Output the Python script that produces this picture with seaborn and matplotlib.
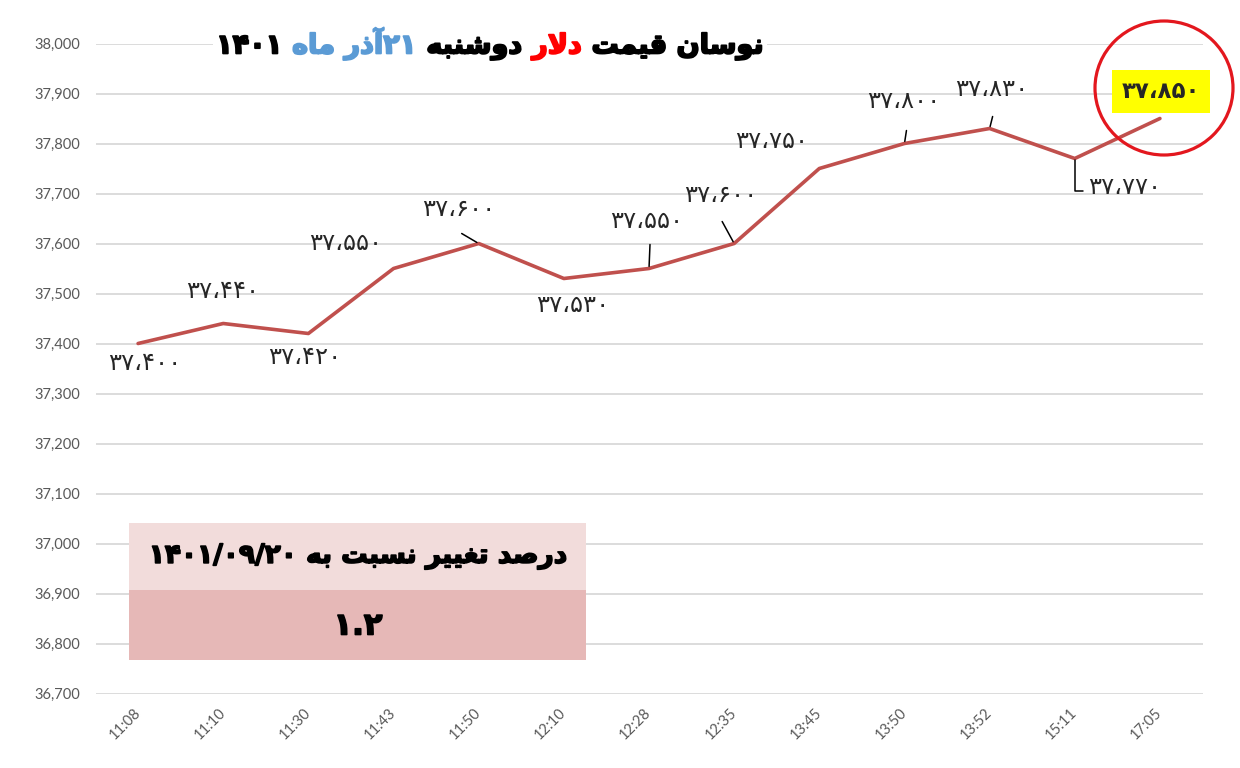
import re
import numpy as np
import pandas as pd
import matplotlib
matplotlib.use("Agg")
import matplotlib.pyplot as plt
import seaborn as sns
from matplotlib import font_manager, patches, patheffects
from matplotlib.ft2font import FT2Font
from matplotlib.offsetbox import TextArea, HPacker, AnchoredOffsetbox

# ---------------- data ----------------
times = ["11:08", "11:10", "11:30", "11:43", "11:50", "12:10", "12:28",
         "12:35", "13:45", "13:50", "13:52", "15:11", "17:05"]
prices = [37400, 37440, 37420, 37550, 37600, 37530, 37550,
          37600, 37750, 37800, 37830, 37770, 37850]
y_ticks = list(range(36700, 38001, 100))

title_parts = ["نوسان قیمت", "دلار", "دوشنبه", "۲۱آذر ماه", "۱۴۰۱"]
title_colors = ["#000000", "#FF0000", "#000000", "#5B9BD5", "#000000"]
box_header = "درصد تغییر نسبت به ۱۴۰۱/۰۹/۲۰"
box_value = "۱.۲"

# label offsets (pixels) relative to each point
label_offsets = [(7, -20), (-1, 32), (-4, -24), (-48, 25), (-20, 35), (9, -26),
                 (-2, 47), (-13, 48), (-48, 27), (-1, 42), (2, 40), (50, -28), (1, 27)]
leaders = {4: (-17, 10), 6: (1, 24), 7: (-12, 22), 9: (2, 13), 10: (3, 12)}

# ---------------- Persian helpers ----------------
fa_digits = str.maketrans("0123456789", "۰۱۲۳۴۵۶۷۸۹")
price_labels = [f"{p:,}".replace(",", "،").translate(fa_digits) for p in prices]

bold_path = font_manager.findfont(font_manager.FontProperties(family="DejaVu Sans", weight="bold"))
reg_path = font_manager.findfont(font_manager.FontProperties(family="DejaVu Sans"))
cmap_bold = FT2Font(bold_path).get_charmap()
cmap_reg = FT2Font(reg_path).get_charmap()
bold_ok = 0xFE8D in cmap_bold and 0xFEB7 in cmap_bold
cmap_use = cmap_bold if bold_ok else cmap_reg

FORMS = {
    "ا": (0xFE8D, 0xFE8E, None, None),
    "آ": (0xFE81, 0xFE82, None, None),
    "ب": (0xFE8F, 0xFE90, 0xFE91, 0xFE92),
    "ت": (0xFE95, 0xFE96, 0xFE97, 0xFE98),
    "د": (0xFEA9, 0xFEAA, None, None),
    "ذ": (0xFEAB, 0xFEAC, None, None),
    "ر": (0xFEAD, 0xFEAE, None, None),
    "س": (0xFEB1, 0xFEB2, 0xFEB3, 0xFEB4),
    "ش": (0xFEB5, 0xFEB6, 0xFEB7, 0xFEB8),
    "ص": (0xFEB9, 0xFEBA, 0xFEBB, 0xFEBC),
    "غ": (0xFECD, 0xFECE, 0xFECF, 0xFED0),
    "ق": (0xFED5, 0xFED6, 0xFED7, 0xFED8),
    "ل": (0xFEDD, 0xFEDE, 0xFEDF, 0xFEE0),
    "م": (0xFEE1, 0xFEE2, 0xFEE3, 0xFEE4),
    "ن": (0xFEE5, 0xFEE6, 0xFEE7, 0xFEE8),
    "ه": (0xFEE9, 0xFEEA, 0xFEEB, 0xFEEC),
    "و": (0xFEED, 0xFEEE, None, None),
    "ی": (0xFBFC, 0xFBFD, 0xFBFE, 0xFBFF),
}
if 0xFBFC not in cmap_use:
    FORMS["ی"] = (0xFEEF, 0xFEF0, 0xFEF3, 0xFEF4)
RIGHT_ONLY = set("اآدذرزژو")


def shape(w):
    out, i, n = [], 0, len(w)
    dual = lambda c: c in FORMS and c not in RIGHT_ONLY
    while i < n:
        c = w[i]
        if c not in FORMS:
            out.append(c)
            i += 1
            continue
        prev = i > 0 and dual(w[i - 1])
        if c == "ل" and i + 1 < n and w[i + 1] in "اآ":
            lig = {"ا": (0xFEFB, 0xFEFC), "آ": (0xFEF5, 0xFEF6)}[w[i + 1]]
            out.append(chr(lig[1] if prev else lig[0]))
            i += 2
            continue
        nxt = i + 1 < n and dual(c) and w[i + 1] in FORMS
        iso, fin, ini, med = FORMS[c]
        g = med if (prev and nxt) else fin if prev else ini if nxt else iso
        out.append(chr(g))
        i += 1
    return "".join(out)


def visual(s):
    runs = re.findall(r"[0-9۰-۹][0-9۰-۹/.،]*|[^0-9۰-۹]+", s)
    vis = [r if re.match(r"[0-9۰-۹]", r) else shape(r)[::-1] for r in runs]
    return "".join(vis[::-1])


# ---------------- figure ----------------
sns.set_style("white")
plt.rcParams["font.family"] = ["DejaVu Sans"]

W, H = 1240, 768
fig = plt.figure(figsize=(W / 100, H / 100), dpi=100)
ax = fig.add_axes([95.5 / W, (H - 693.5) / H, 1107 / W, 650 / H])

df = pd.DataFrame({"time": times, "price": prices})
sns.lineplot(data=df, x="time", y="price", sort=False, color="#C0504D",
             linewidth=2.6, ax=ax, zorder=3)

ax.set_xlim(-0.5, len(times) - 0.5)
ax.set_ylim(36700, 38000)
ax.set_yticks(y_ticks)
ax.set_yticklabels([f"{t:,}" for t in y_ticks])
ax.set_xticks(range(len(times)))
ax.set_xticklabels(times)
ax.set_xlabel("")
ax.set_ylabel("")
ax.yaxis.grid(True, color="#D9D9D9", linewidth=1.3)
ax.xaxis.grid(False)
ax.set_axisbelow(True)
for s in ax.spines.values():
    s.set_visible(False)
ax.tick_params(axis="y", length=0, pad=11, labelsize=10.5, labelcolor="#595959")
ax.tick_params(axis="x", length=0, pad=12, labelsize=10.5, labelcolor="#595959")
for lab in ax.get_yticklabels():
    lab.set_fontfamily("Lato")
for lab in ax.get_xticklabels():
    lab.set_fontfamily("Lato")
    lab.set_rotation(45)
    lab.set_ha("right")
    lab.set_va("center")
    lab.set_rotation_mode("anchor")

# data labels
for i, (v, lab, off) in enumerate(zip(prices, price_labels, label_offsets)):
    if i == len(prices) - 1:
        ax.annotate(lab, xy=(i, v), xytext=off, textcoords="offset pixels",
                    ha="center", va="center", fontsize=16.5, fontweight="bold",
                    bbox=dict(boxstyle="square,pad=0.42", fc="#FFFF00", ec="none"),
                    zorder=6, annotation_clip=False)
    else:
        ax.annotate(lab, xy=(i, v), xytext=off, textcoords="offset pixels",
                    ha="center", va="center", fontsize=17.5, zorder=6,
                    annotation_clip=False)

for i, end in leaders.items():
    ax.annotate("", xy=(i, prices[i]), xytext=end, textcoords="offset pixels",
                arrowprops=dict(arrowstyle="-", color="black", lw=1.1,
                                shrinkA=0, shrinkB=1.5), zorder=5)
# L-shaped leader for 15:11
ax.annotate("", xy=(11, prices[11]), xytext=(8, -32), textcoords="offset pixels",
            arrowprops=dict(arrowstyle="-", color="black", lw=1.1, shrinkA=0, shrinkB=1,
                            connectionstyle="angle,angleA=0,angleB=90,rad=0"), zorder=5)

# red circle around the last value
fig.add_artist(patches.Ellipse((1164 / W, 1 - 88 / H), 138 / W, 134 / H,
                               transform=fig.transFigure, fill=False,
                               ec="#E3171E", lw=2.3, zorder=7))

# title
tw = "bold" if bold_ok else "normal"
areas = []
for part, col in list(zip(title_parts, title_colors))[::-1]:
    ta = TextArea(visual(part), textprops=dict(color=col, fontsize=19.5,
                                               fontweight=tw, family="DejaVu Sans"))
    ta._text.set_path_effects([patheffects.withStroke(linewidth=1.4, foreground=col)])
    areas.append(ta)
pack = HPacker(children=areas, align="baseline", pad=0, sep=7)
tbox = AnchoredOffsetbox(loc="center", child=pack, pad=0.2, borderpad=0, frameon=True,
                         bbox_to_anchor=(490 / W, 1 - 44 / H),
                         bbox_transform=fig.transFigure)
tbox.patch.set_facecolor("white")
tbox.patch.set_edgecolor("none")
tbox.set_zorder(8)
fig.add_artist(tbox)

# change box
fig.add_artist(patches.Rectangle((129 / W, 1 - 590 / H), 457 / W, 67 / H,
                                 transform=fig.transFigure, fc="#F2DCDB", ec="none", zorder=4))
fig.add_artist(patches.Rectangle((129 / W, 1 - 660 / H), 457 / W, 70 / H,
                                 transform=fig.transFigure, fc="#E6B8B7", ec="none", zorder=4))
hdr = fig.text(358 / W, 1 - 556 / H, visual(box_header), ha="center", va="center",
               fontsize=19, fontweight=tw, color="black", zorder=5)
hdr.set_path_effects([patheffects.withStroke(linewidth=1.2, foreground="black")])
val = fig.text(358 / W, 1 - 626 / H, visual(box_value), ha="center", va="center",
               fontsize=22, fontweight="bold", color="black", zorder=5)
val.set_path_effects([patheffects.withStroke(linewidth=1.2, foreground="black")])

fig.savefig("out.png", dpi=100, facecolor="white")
